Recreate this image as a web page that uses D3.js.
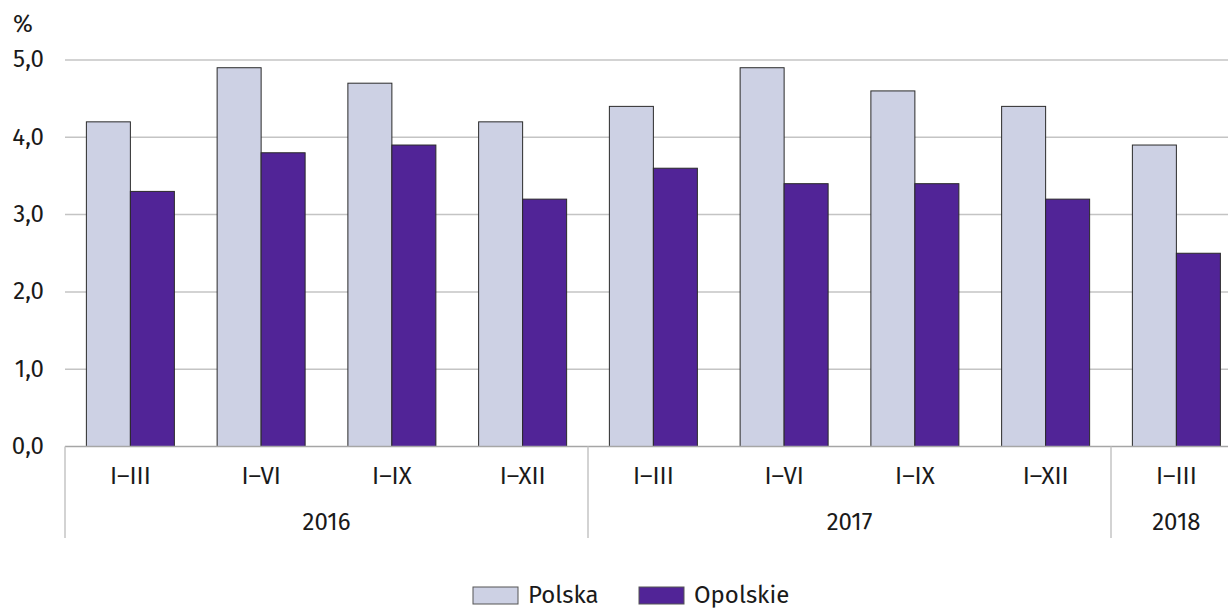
<!DOCTYPE html>
<html>
<head>
<meta charset="utf-8">
<script src="https://cdn.jsdelivr.net/npm/d3@7"></script>
<style>
  body { margin: 0; background: #fff; }
  text { font-family: "Fira Sans", "Noto Sans", "Open Sans", sans-serif; fill: #1a1a1a; }
</style>
</head>
<body>
<div id="chart"></div>
<script>
// data
const periods = ["I–III", "I–VI", "I–IX", "I–XII", "I–III", "I–VI", "I–IX", "I–XII", "I–III"];
const years = [
  { label: "2016", from: 0, to: 3 },
  { label: "2017", from: 4, to: 7 },
  { label: "2018", from: 8, to: 8 }
];
const seriesNames = ["Polska", "Opolskie"];
const polska = [4.2, 4.9, 4.7, 4.2, 4.4, 4.9, 4.6, 4.4, 3.9];
const opolskie = [3.3, 3.8, 3.9, 3.2, 3.6, 3.4, 3.4, 3.2, 2.5];
const yTicks = [0, 1, 2, 3, 4, 5];

const colors = ["#cdd1e4", "#512497"];
const width = 1228;
const height = 609;
const fs = 24;

const svg = d3.select("#chart").append("svg")
  .attr("width", width)
  .attr("height", height);

// x range runs past the right edge, as in the reference
const x = d3.scaleBand()
  .domain(d3.range(periods.length))
  .range([65, 65 + 130.75 * periods.length])
  .padding(0);

const x1 = d3.scaleBand()
  .domain(seriesNames)
  .range([x.bandwidth() / 2 - 44, x.bandwidth() / 2 + 44]);

const y = d3.scaleLinear()
  .domain([0, 5])
  .range([446.5, 60]);

// gridlines
svg.append("g")
  .selectAll("line")
  .data(yTicks.filter(d => d > 0))
  .enter().append("line")
  .attr("x1", 65)
  .attr("x2", width)
  .attr("y1", d => y(d))
  .attr("y2", d => y(d))
  .attr("stroke", "#c4c4c4")
  .attr("stroke-width", 1.5);

// y tick labels
svg.append("g")
  .selectAll("text")
  .data(yTicks)
  .enter().append("text")
  .attr("x", 44)
  .attr("y", d => y(d) - 1)
  .attr("dy", "0.35em")
  .attr("text-anchor", "end")
  .attr("font-size", fs)
  .text(d => d3.format(".1f")(d).replace(".", ","));

svg.append("text")
  .attr("x", 13)
  .attr("y", 32)
  .attr("font-size", fs)
  .text("%");

// bars
const data = periods.map((p, i) => ({ i, values: [polska[i], opolskie[i]] }));

const groups = svg.append("g")
  .selectAll("g")
  .data(data)
  .enter().append("g")
  .attr("transform", d => `translate(${x(d.i)},0)`);

groups.selectAll("rect")
  .data(d => d.values.map((v, k) => ({ name: seriesNames[k], v, k })))
  .enter().append("rect")
  .attr("x", d => x1(d.name))
  .attr("width", x1.bandwidth())
  .attr("y", d => y(d.v))
  .attr("height", d => y(0) - y(d.v))
  .attr("fill", d => colors[d.k])
  .attr("stroke", "#2a2a2a")
  .attr("stroke-width", 1);

// baseline
svg.append("line")
  .attr("x1", 65)
  .attr("x2", width)
  .attr("y1", y(0))
  .attr("y2", y(0))
  .attr("stroke", "#a6a6a6")
  .attr("stroke-width", 1.5);

// period labels
svg.append("g")
  .selectAll("text")
  .data(periods)
  .enter().append("text")
  .attr("x", (d, i) => x(i) + x.bandwidth() / 2)
  .attr("y", 476)
  .attr("dy", "0.35em")
  .attr("text-anchor", "middle")
  .attr("font-size", fs)
  .text(d => d);

// year separators and labels
const seps = [0].concat(years.slice(0, -1).map(d => d.to + 1));
svg.append("g")
  .selectAll("line")
  .data(seps)
  .enter().append("line")
  .attr("x1", d => x(d))
  .attr("x2", d => x(d))
  .attr("y1", y(0))
  .attr("y2", 538)
  .attr("stroke", "#c4c4c4")
  .attr("stroke-width", 1.5);

svg.append("g")
  .selectAll("text")
  .data(years)
  .enter().append("text")
  .attr("x", d => (x(d.from) + x(d.to) + x.bandwidth()) / 2)
  .attr("y", 522)
  .attr("dy", "0.35em")
  .attr("text-anchor", "middle")
  .attr("font-size", fs)
  .text(d => d.label);

// legend
const legendX = [473, 639];
const legend = svg.append("g")
  .selectAll("g")
  .data(seriesNames)
  .enter().append("g")
  .attr("transform", (d, i) => `translate(${legendX[i]},587)`);

legend.append("rect")
  .attr("width", 45)
  .attr("height", 17)
  .attr("fill", (d, i) => colors[i])
  .attr("stroke", "#555")
  .attr("stroke-width", 1);

legend.append("text")
  .attr("x", 55)
  .attr("y", 16)
  .attr("font-size", fs)
  .text(d => d);
</script>
</body>
</html>
